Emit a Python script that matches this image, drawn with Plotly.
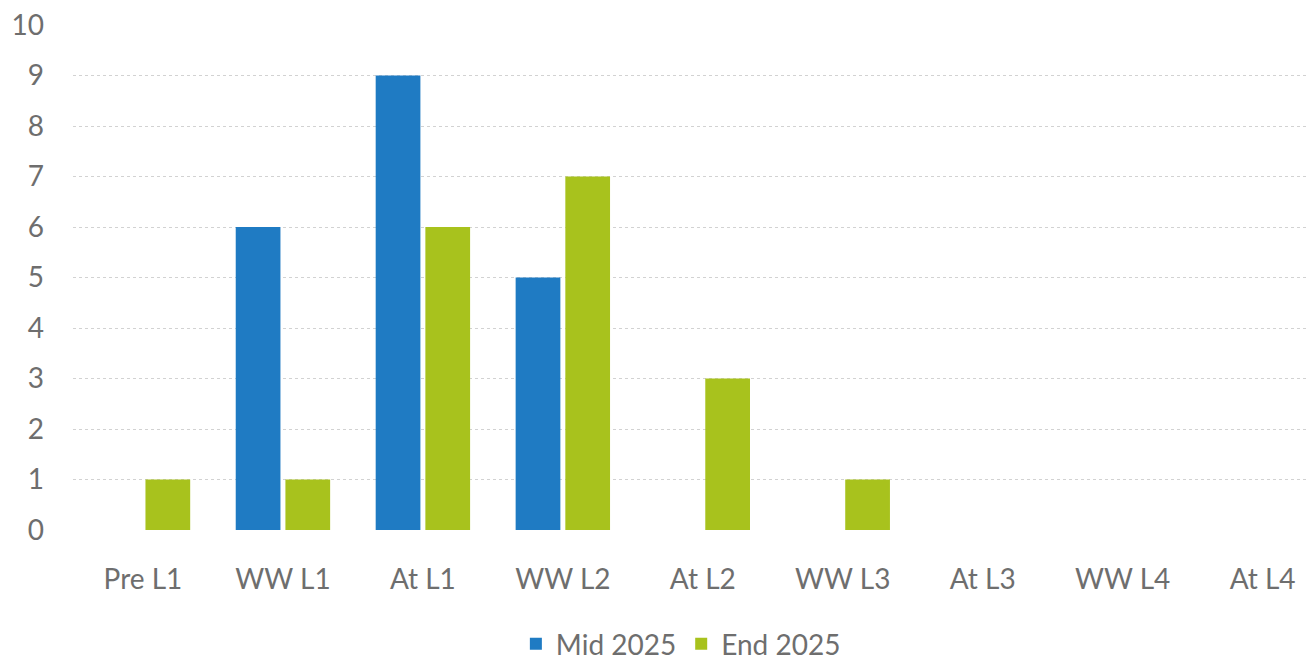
import plotly.graph_objects as go

categories = ["Pre L1", "WW L1", "At L1", "WW L2", "At L2", "WW L3", "At L3", "WW L4", "At L4"]
mid_2025 = [0, 6, 9, 5, 0, 0, 0, 0, 0]
end_2025 = [1, 1, 6, 7, 3, 1, 0, 0, 0]
y_ticks = list(range(0, 11))

font_family = "Lato, 'Open Sans', sans-serif"
text_grey = "#6e6e6e"

fig = go.Figure()
fig.add_trace(go.Bar(
    name="Mid 2025", x=categories, y=mid_2025,
    marker=dict(color="#1f7bc3", line=dict(width=0)),
))
fig.add_trace(go.Bar(
    name="End 2025", x=categories, y=end_2025,
    marker=dict(color="#a8c21d", line=dict(width=0)),
))

fig.update_layout(
    width=1306, height=664,
    margin=dict(l=73, r=0, t=25, b=134, autoexpand=False),
    paper_bgcolor="white", plot_bgcolor="white",
    barmode="group", bargap=0.29, bargroupgap=0.1,
    font=dict(family=font_family, color=text_grey),
    showlegend=True,
    legend=dict(
        orientation="h", x=0.493, xanchor="center",
        yref="container", y=0.03, yanchor="middle",
        font=dict(size=28, color=text_grey), itemwidth=30,
    ),
    xaxis=dict(
        range=[-0.5, 8.31], showgrid=False, zeroline=False, showline=False,
        automargin=False,
        ticks="", tickfont=dict(size=28, color=text_grey), ticklabelstandoff=30,
    ),
    yaxis=dict(
        range=[0, 10], tickvals=y_ticks, showgrid=True, gridcolor="#d2d2d2",
        griddash="dot", gridwidth=1, zeroline=False, showline=False,
        automargin=False,
        ticks="", tickfont=dict(size=28, color=text_grey), ticklabelstandoff=28,
    ),
)

fig.write_html("out.html")
